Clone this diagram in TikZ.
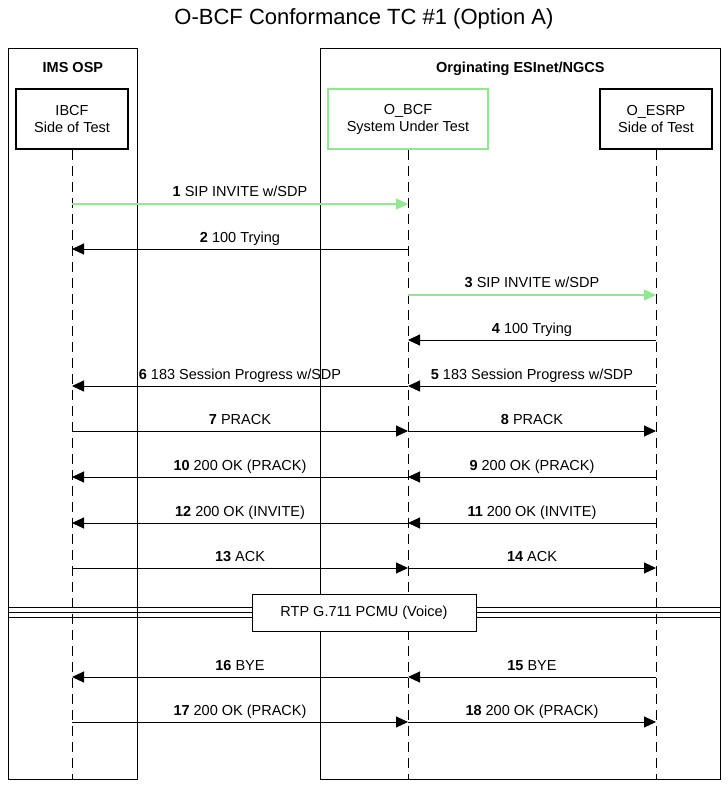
\documentclass[tikz,border=0pt]{standalone}
\usepackage{fontspec}
\setmainfont{Liberation Sans}
\usetikzlibrary{positioning, arrows.meta}
\definecolor{sutgreen}{RGB}{144,232,144}
\tikzstyle{every node}=[font=\fontsize{14.5}{17}\selectfont]
\tikzstyle{pool}=[draw,rectangle,line width=0.8pt,anchor=north west]
\tikzstyle{head}=[font=\fontsize{14.5}{17}\selectfont\bfseries,inner sep=0pt]
\tikzstyle{actor}=[draw,rectangle,fill=white,line width=2.5pt,minimum width=112pt,minimum height=60pt,align=center]
\tikzstyle{lifeline}=[line width=1pt,dash pattern=on 10pt off 6pt]
\tikzstyle{msg}=[line width=1pt]
\tikzstyle{ok}=[line width=1.2pt,draw=sutgreen]
\tikzstyle{lbl}=[above=3pt,inner sep=0pt,text depth=3.5pt]

\begin{document}
\begin{tikzpicture}[>={Triangle[length=12pt,width=11pt]}, x=1pt, y=-1pt]
            \useasboundingbox (0,0) rectangle (728,788);
            \node[font=\fontsize{22}{26}\selectfont] (title) at (364,18.5) {O-BCF Conformance TC \#1 (Option A)};
            % pools
            \node[pool, minimum width=129pt, minimum height=731pt] (osp) at (8,48) {};
            \node[head, below=14pt of osp.north] (osphead) {IMS OSP};
            \node[pool, minimum width=400pt, minimum height=731pt] (esinet) at (320,48) {};
            \node[head, below=14pt of esinet.north] (esinethead) {Orginating ESInet/NGCS};
            % actors
            \node[actor] (ibcf) at (72,119) {IBCF\\Side of Test};
            \node[actor, draw=sutgreen, minimum width=160pt] (obcf) at (408,119) {O\_BCF\\System Under Test};
            \node[actor] (oesrp) at (656,119) {O\_ESRP\\Side of Test};
            \draw[lifeline] (ibcf) -- (ibcf |- 0,779);
            \draw[lifeline] (obcf) -- (obcf |- 0,779);
            \draw[lifeline] (oesrp) -- (oesrp |- 0,779);
            % messages
            \draw[ok,->,fill=sutgreen] (ibcf |- 0,204) -- node[lbl] {\textbf{1} SIP INVITE w/SDP} (obcf |- 0,204);
            \draw[msg,->] (obcf |- 0,249) -- node[lbl] {\textbf{2} 100 Trying} (ibcf |- 0,249);
            \draw[ok,->,fill=sutgreen] (obcf |- 0,295) -- node[lbl] {\textbf{3} SIP INVITE w/SDP} (oesrp |- 0,295);
            \draw[msg,->] (oesrp |- 0,340) -- node[lbl] {\textbf{4} 100 Trying} (obcf |- 0,340);
            \draw[msg,->] (oesrp |- 0,386) -- node[lbl] {\textbf{5} 183 Session Progress w/SDP} (obcf |- 0,386);
            \draw[msg,->] (obcf |- 0,386) -- node[lbl] {\textbf{6} 183 Session Progress w/SDP} (ibcf |- 0,386);
            \draw[msg,->] (ibcf |- 0,431) -- node[lbl] {\textbf{7} PRACK} (obcf |- 0,431);
            \draw[msg,->] (obcf |- 0,431) -- node[lbl] {\textbf{8} PRACK} (oesrp |- 0,431);
            \draw[msg,->] (oesrp |- 0,477) -- node[lbl] {\textbf{9} 200 OK (PRACK)} (obcf |- 0,477);
            \draw[msg,->] (obcf |- 0,477) -- node[lbl] {\textbf{10} 200 OK (PRACK)} (ibcf |- 0,477);
            \draw[msg,->] (oesrp |- 0,523) -- node[lbl] {\textbf{11} 200 OK (INVITE)} (obcf |- 0,523);
            \draw[msg,->] (obcf |- 0,523) -- node[lbl] {\textbf{12} 200 OK (INVITE)} (ibcf |- 0,523);
            \draw[msg,->] (ibcf |- 0,568) -- node[lbl] {\textbf{13} ACK} (obcf |- 0,568);
            \draw[msg,->] (obcf |- 0,568) -- node[lbl] {\textbf{14} ACK} (oesrp |- 0,568);
            % media
            \draw[line width=0.9pt] (osp.west |- 0,607) -- (esinet.east |- 0,607);
            \draw[line width=0.9pt] (osp.west |- 0,612) -- (esinet.east |- 0,612);
            \draw[line width=0.9pt] (osp.west |- 0,617) -- (esinet.east |- 0,617);
            \node[draw, fill=white, line width=0.9pt, minimum width=224pt, minimum height=37pt] (rtp) at (364,612.5) {RTP G.711 PCMU (Voice)};
            \draw[msg,->] (oesrp |- 0,677) -- node[lbl] {\textbf{15} BYE} (obcf |- 0,677);
            \draw[msg,->] (obcf |- 0,677) -- node[lbl] {\textbf{16} BYE} (ibcf |- 0,677);
            \draw[msg,->] (ibcf |- 0,722) -- node[lbl] {\textbf{17} 200 OK (PRACK)} (obcf |- 0,722);
            \draw[msg,->] (obcf |- 0,722) -- node[lbl] {\textbf{18} 200 OK (PRACK)} (oesrp |- 0,722);
        \end{tikzpicture}
\end{document}
